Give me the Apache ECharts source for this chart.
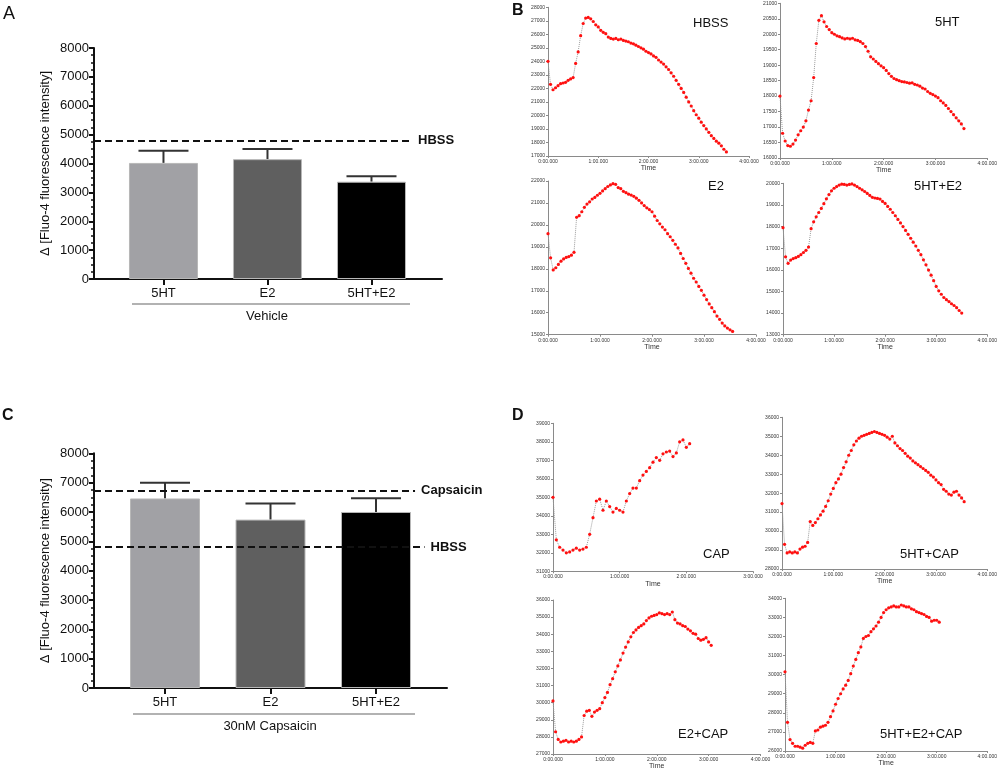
<!DOCTYPE html>
<html>
<head>
<meta charset="utf-8">
<script src="https://cdn.jsdelivr.net/npm/echarts@6/dist/echarts.min.js"></script>
<style>html,body{margin:0;padding:0;background:#fff}#c{width:1000px;height:773px}</style>
</head>
<body>
<div id="c"></div>
<script>
// ---------- DATA ----------
const barCategories = ['5HT', 'E2', '5HT+E2'];
const vehicleMeans = [4020, 4150, 3370];
const vehicleUpper = [4440, 4500, 3560];
const capMeans = [6460, 5740, 6000];
const capUpper = [7000, 6290, 6470];
const hbssLevel = 4800;
const capsaicinLevel = 6730;
const yTicksBar = [0, 8000, 1000];

const sampleStep = 3; // seconds between recorded samples

const hbssTrace = [24000,22300,21900,22050,22200,22350,22400,22450,22600,22700,22800,23850,24700,25900,26800,27200,27250,27150,26950,26700,26550,26300,26150,26050,25800,25700,25650,25700,25600,25650,25550,25500,25450,25350,25300,25200,25100,25000,24900,24750,24650,24550,24400,24300,24100,23950,23800,23600,23400,23150,22900,22600,22300,22000,21700,21350,21000,20700,20350,20050,19800,19500,19250,19000,18750,18500,18300,18100,17950,17750,17500,17300];
const ht5Trace = [18000,16800,16550,16400,16380,16450,16580,16750,16880,17000,17200,17550,17850,18600,19700,20450,20600,20400,20250,20150,20050,20000,19950,19920,19880,19850,19870,19850,19870,19820,19800,19760,19700,19600,19450,19270,19200,19120,19050,18980,18920,18830,18730,18640,18570,18530,18500,18470,18460,18440,18420,18430,18380,18360,18320,18260,18230,18150,18090,18050,18000,17950,17850,17780,17700,17600,17500,17400,17300,17200,17100,16950];
const e2Trace = [19600,18500,17950,18050,18200,18350,18450,18520,18560,18620,18750,20350,20420,20600,20800,20950,21050,21180,21250,21350,21440,21550,21650,21750,21820,21880,21850,21700,21650,21530,21470,21400,21360,21300,21220,21120,21000,20880,20780,20700,20600,20400,20200,20050,19900,19780,19600,19460,19300,19120,18950,18700,18470,18250,18020,17800,17570,17400,17200,17020,16800,16600,16400,16230,16050,15850,15700,15530,15400,15300,15220,15150];
const ht5e2Trace = [17950,16600,16300,16450,16520,16560,16620,16700,16800,16900,17050,17900,18220,18450,18650,18840,19060,19280,19480,19650,19770,19850,19920,19960,19950,19920,19950,19970,19920,19850,19770,19700,19620,19530,19440,19350,19320,19300,19270,19160,19070,18930,18800,18650,18500,18330,18170,18000,17820,17640,17460,17280,17100,16900,16700,16460,16230,15990,15750,15500,15230,15030,14870,14720,14620,14530,14430,14350,14250,14120,14000];
const capTrace = [35000,32700,32300,32150,32000,32050,32150,32250,32150,32200,32300,33000,33900,34800,34900,34300,34800,34500,34200,34400,34300,34200,34800,35200,35500,35500,35900,36200,36400,36600,36900,37150,37000,37350,37450,37500,37200,37400,38000,38100,37700,37900];
const ht5capTrace = [31450,29300,28850,28900,28850,28900,28850,29050,29150,29200,29400,30500,30300,30450,30650,30850,31050,31300,31600,31950,32250,32550,32750,33000,33350,33650,34000,34250,34550,34750,34900,35000,35050,35100,35150,35200,35250,35200,35150,35100,35050,34950,34850,35000,34650,34500,34350,34250,34100,33950,33850,33700,33600,33500,33400,33300,33200,33100,32950,32850,32700,32550,32450,32200,32100,31950,31900,32050,32100,31900,31750,31550];
const e2capTrace = [30100,28300,27850,27700,27750,27800,27700,27750,27700,27750,27850,28000,29250,29500,29550,29200,29450,29550,29650,30000,30300,30600,31050,31400,31800,32150,32500,32900,33250,33550,33850,34100,34250,34400,34500,34600,34800,34950,35050,35100,35150,35250,35200,35150,35200,35150,35300,34850,34650,34600,34500,34450,34300,34200,34050,34000,33750,33650,33700,33800,33550,33350];
const ht5e2capTrace = [30150,27500,26600,26400,26250,26250,26200,26150,26300,26400,26450,26400,27050,27100,27250,27300,27350,27500,27800,28100,28450,28750,29000,29250,29450,29700,30050,30450,30800,31150,31450,31900,32000,32050,32250,32400,32550,32750,33000,33250,33400,33500,33550,33600,33550,33550,33650,33600,33550,33550,33450,33400,33300,33250,33200,33150,33050,33000,32800,32850,32850,32750];

const traceNames = ['HBSS','5HT','E2','5HT+E2','CAP','5HT+CAP','E2+CAP','5HT+E2+CAP'];
const traces = [hbssTrace, ht5Trace, e2Trace, ht5e2Trace, capTrace, ht5capTrace, e2capTrace, ht5e2capTrace];
const traceYRange = [[17000,28000,1000],[16000,21000,500],[15000,22000,1000],[13000,20000,1000],[31000,39000,1000],[28000,36000,1000],[27000,36000,1000],[26000,34000,1000]];
const traceXMax = [240,240,240,240,180,240,240,240];

// ---------- LAYOUT ----------
const FONT = '"Liberation Sans", Arial, sans-serif';
const smallGrids = [
  {left:548, top:7.3, width:201, height:148.7},
  {left:780, top:3.3, width:208.7, height:154.7},
  {left:548, top:181, width:208, height:153.7},
  {left:783, top:183.3, width:207, height:151.4},
  {left:553, top:423.3, width:200, height:148},
  {left:782, top:417.3, width:206.7, height:151.7},
  {left:553, top:600, width:207.5, height:154},
  {left:785, top:598.3, width:207.3, height:152.7}
];
const traceLabelPos = [[693,17],[935,16],[708,180],[914,180],[703,548],[900,548],[678,728],[880,728]];

const barColors = ['#a1a1a5', '#5f5f5f', '#000000'];
const grids = [
  {left:94, top:48, width:348, height:231},
  {left:94, top:453.3, width:353, height:234.7}
];
const barXRange = [[-0.668, 2.678], [-0.673, 2.673]];

function timeFmt(v) {
  const m = Math.floor(v / 60), s = Math.round(v % 60);
  return m + ':' + String(s).padStart(2, '0') + '.000';
}
const plain = v => String(v);

const option = {
  animation: false,
  textStyle: {fontFamily: FONT},
  grid: [],
  xAxis: [],
  yAxis: [],
  series: [],
  graphic: []
};

// Bar panels
[[vehicleMeans, vehicleUpper], [capMeans, capUpper]].forEach(([means, upper], k) => {
  option.grid.push(Object.assign({containLabel:false}, grids[k]));
  option.xAxis.push({
    type:'value', gridIndex:k, min:barXRange[k][0], max:barXRange[k][1],
    axisLine:{show:true, onZero:false, lineStyle:{color:'#111', width:2}},
    axisTick:{show:true, customValues:[0,1,2], length:6, lineStyle:{color:'#111', width:2}},
    axisLabel:{show:true, customValues:[0,1,2], formatter:v=>barCategories[Math.round(v)], fontSize:13, color:'#111', margin:8},
    splitLine:{show:false}
  });
  option.yAxis.push({
    type:'value', gridIndex:k, min:yTicksBar[0], max:yTicksBar[1], interval:yTicksBar[2],
    name:'Δ [Fluo-4 fluorescence intensity]', nameLocation:'middle', nameGap:42,
    nameTextStyle:{fontSize:13, color:'#111'},
    axisLine:{show:true, onZero:false, lineStyle:{color:'#111', width:2}},
    axisTick:{show:true, length:5, lineStyle:{color:'#111', width:2}},
    minorTick:{show:true, splitNumber:4, length:3, lineStyle:{color:'#111', width:1.5}},
    axisLabel:{fontSize:13, color:'#111', margin:5, formatter:plain},
    splitLine:{show:false}
  });
  const refLines = k === 0
    ? [[hbssLevel, 'HBSS', 2.39]]
    : [[capsaicinLevel, 'Capsaicin', 2.37], [hbssLevel, 'HBSS', 2.46]];
  option.series.push({
    type:'bar', xAxisIndex:k, yAxisIndex:k, barWidth: k===0 ? 69 : 70,
    data: means.map((v,i)=>({value:[i, v], itemStyle:{color:barColors[i], borderColor:'#b8b8b8', borderWidth:1}})),
    markLine:{
      silent:true, symbol:'none',
      lineStyle:{color:'#111', width:2, type:[7,4]},
      label:{show:true, position:'end', fontWeight:'bold', fontSize:13, color:'#111', distance:6},
      data: refLines.map(([lvl, name, xe]) => [
        {coord:[barXRange[k][0], lvl], name:name, label:{formatter:name}},
        {coord:[xe, lvl]}
      ])
    }
  });
  option.series.push({
    type:'custom', xAxisIndex:k, yAxisIndex:k,
    data: means.map((v,i)=>[i, v, upper[i]]),
    renderItem:(params, api) => {
      const p0 = api.coord([api.value(0), api.value(1)]);
      const p1 = api.coord([api.value(0), api.value(2)]);
      const hw = 25;
      const st = {stroke:'#333', lineWidth:2};
      return {type:'group', children:[
        {type:'line', shape:{x1:p0[0], y1:p0[1], x2:p1[0], y2:p1[1]}, style:st},
        {type:'line', shape:{x1:p1[0]-hw, y1:p1[1], x2:p1[0]+hw, y2:p1[1]}, style:st}
      ]};
    },
    z:1
  });
});

// Small trace panels
traces.forEach((tr, j) => {
  const gi = j + 2;
  option.grid.push(Object.assign({containLabel:false}, smallGrids[j]));
  option.xAxis.push({
    type:'value', gridIndex:gi, min:0, max:traceXMax[j], interval:60,
    name:'Time', nameLocation:'middle', nameGap:9, nameTextStyle:{fontSize:7, color:'#333'},
    axisLine:{show:true, onZero:false, lineStyle:{color:'#8a8a8a', width:1}},
    axisTick:{show:true, length:2, lineStyle:{color:'#8a8a8a'}},
    axisLabel:{fontSize:5, color:'#333', margin:3, formatter:timeFmt, showMaxLabel:true},
    splitLine:{show:false}
  });
  option.yAxis.push({
    type:'value', gridIndex:gi, min:traceYRange[j][0], max:traceYRange[j][1], interval:traceYRange[j][2],
    axisLine:{show:true, onZero:false, lineStyle:{color:'#8a8a8a', width:1}},
    axisTick:{show:true, length:2, lineStyle:{color:'#8a8a8a'}},
    axisLabel:{fontSize:5, color:'#333', margin:3, formatter:plain},
    splitLine:{show:false}
  });
  option.series.push({
    type:'line', xAxisIndex:gi, yAxisIndex:gi,
    data: tr.map((v,i)=>[i*sampleStep, v]),
    symbol:'circle', symbolSize:3.2, showAllSymbol:true,
    itemStyle:{color:'#ff1010'},
    lineStyle:{color:'#9a9a9a', width:1, type:'dotted'}
  });
  option.graphic.push({type:'text', left:traceLabelPos[j][0], top:traceLabelPos[j][1],
    style:{text:traceNames[j], font:'13px ' + FONT, fill:'#111'}});
});

// Group brackets and panel letters
option.graphic.push(
  {type:'line', shape:{x1:132, y1:304, x2:410, y2:304}, style:{stroke:'#666', lineWidth:1.2}},
  {type:'text', x:267, y:310, style:{text:'Vehicle', font:'13px ' + FONT, fill:'#111', textAlign:'center'}},
  {type:'line', shape:{x1:133, y1:714, x2:415, y2:714}, style:{stroke:'#666', lineWidth:1.2}},
  {type:'text', x:270, y:720, style:{text:'30nM Capsaicin', font:'13px ' + FONT, fill:'#111', textAlign:'center'}},
  {type:'text', x:3, y:5, style:{text:'A', font:'18px ' + FONT, fill:'#111'}},
  {type:'text', x:512, y:3, style:{text:'B', font:'bold 16px ' + FONT, fill:'#111'}},
  {type:'text', x:2, y:408, style:{text:'C', font:'bold 16px ' + FONT, fill:'#111'}},
  {type:'text', x:512, y:408, style:{text:'D', font:'bold 16px ' + FONT, fill:'#111'}}
);

const chart = echarts.init(document.getElementById('c'), null, {renderer:'canvas'});
chart.setOption(option);
</script>
</body>
</html>
